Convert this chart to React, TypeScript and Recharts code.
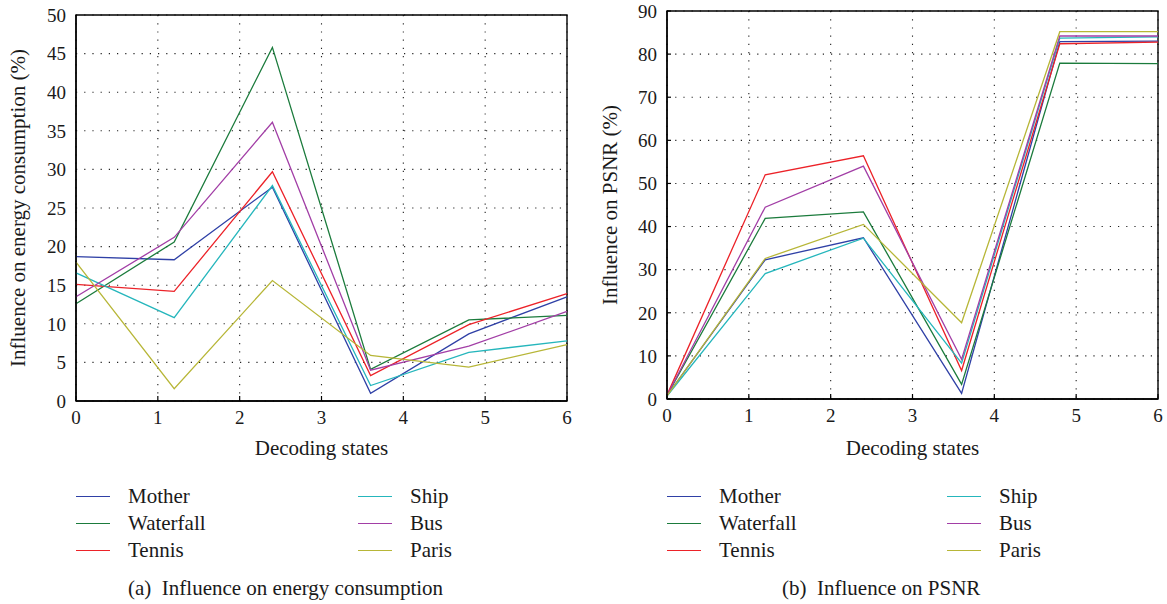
import React from "react";
import {
  LineChart,
  Line,
  XAxis,
  YAxis,
  CartesianGrid,
  ReferenceArea,
  Label,
} from "recharts";

// decoding states sampled at these x positions
const STATES = [0, 1.2, 2.4, 3.6, 4.8, 6];
const X_TICKS = [0, 1, 2, 3, 4, 5, 6];
const ENERGY_TICKS = [0, 5, 10, 15, 20, 25, 30, 35, 40, 45, 50];
const PSNR_TICKS = [0, 10, 20, 30, 40, 50, 60, 70, 80, 90];

const SERIES = ["Mother", "Waterfall", "Tennis", "Ship", "Bus", "Paris"];
const COLORS = ["#2f40a6", "#1b7b3c", "#ec2228", "#25b6bc", "#a23ea6", "#b7b637"];

// (a) influence on energy consumption (%)
const energyMother = [18.7, 18.3, 27.7, 1.0, 8.7, 13.5];
const energyWaterfall = [12.6, 20.6, 45.8, 4.1, 10.5, 11.1];
const energyTennis = [15.1, 14.2, 29.7, 3.3, 9.9, 13.9];
const energyShip = [16.6, 10.8, 27.9, 2.0, 6.3, 7.8];
const energyBus = [13.5, 21.2, 36.1, 4.0, 7.1, 11.6];
const energyParis = [18.0, 1.6, 15.6, 5.9, 4.4, 7.3];

// (b) influence on PSNR (%)
const psnrMother = [0.8, 32.3, 37.4, 1.3, 82.9, 83.0];
const psnrWaterfall = [0.8, 41.9, 43.4, 3.4, 77.9, 77.8];
const psnrTennis = [0.9, 52.0, 56.4, 6.6, 82.4, 82.8];
const psnrShip = [0.7, 29.1, 37.3, 8.3, 83.7, 84.0];
const psnrBus = [0.8, 44.5, 54.0, 9.2, 84.2, 84.2];
const psnrParis = [0.7, 32.6, 40.5, 17.7, 85.2, 85.2];

const energySeries = [energyMother, energyWaterfall, energyTennis, energyShip, energyBus, energyParis];
const psnrSeries = [psnrMother, psnrWaterfall, psnrTennis, psnrShip, psnrBus, psnrParis];

const FONT = '"Liberation Serif", serif';
const INK = "#1a1a1a";

function buildRows(series: number[][]) {
  return STATES.map((x, i) => {
    const row: Record<string, number> = { x };
    SERIES.forEach((name, s) => {
      row[name] = series[s][i];
    });
    return row;
  });
}

function LegendBlock({ left, top, colGap }: { left: number; top: number; colGap: number }) {
  return (
    <div style={{ position: "absolute", left, top, fontFamily: FONT, fontSize: 21, color: INK }}>
      {SERIES.map((name, i) => {
        const col = i < 3 ? 0 : 1;
        const row = i % 3;
        return (
          <div
            key={name}
            style={{
              position: "absolute",
              left: col * colGap,
              top: row * 27,
              display: "flex",
              alignItems: "center",
              whiteSpace: "nowrap",
              height: 24,
            }}
          >
            <span style={{ display: "inline-block", width: 34, height: 0, borderTop: `1.5px solid ${COLORS[i]}` }} />
            <span style={{ marginLeft: 18 }}>{name}</span>
          </div>
        );
      })}
    </div>
  );
}

interface PanelProps {
  left: number;
  series: number[][];
  ticks: number[];
  yMax: number;
  yLabel: string;
  caption: string;
  yAxisWidth: number;
  top: number;
  xAxisHeight: number;
  yTick: number;
  labelOffset: number;
  legendLeft: number;
  colGap: number;
  captionLeft: number;
}

function Panel(p: PanelProps) {
  const rows = buildRows(p.series);
  return (
    <div style={{ position: "absolute", left: p.left, top: 0, width: 585, height: 604 }}>
      <LineChart
        width={585}
        height={460}
        data={rows}
        margin={{ top: p.top, right: 18 - (p.yAxisWidth - 76), bottom: 0, left: 0 }}
        style={{ fontFamily: FONT }}
      >
        <CartesianGrid stroke="#222" strokeWidth={1.1} strokeDasharray="1.2 7" />
        <XAxis
          dataKey="x"
          type="number"
          domain={[0, 6]}
          ticks={X_TICKS}
          height={p.xAxisHeight}
          axisLine={{ stroke: "#000", strokeWidth: 1.4 }}
          tickLine={{ stroke: "#000", strokeWidth: 1.2 }}
          tickSize={-5}
          tickMargin={15}
          tick={{ fontSize: 19, fill: INK, fontFamily: FONT }}
        >
          <Label
            value="Decoding states"
            position="insideBottom"
            offset={5}
            style={{ fontSize: 21, fill: INK, fontFamily: FONT }}
          />
        </XAxis>
        <YAxis
          type="number"
          domain={[0, p.yMax]}
          ticks={p.ticks}
          width={p.yAxisWidth}
          axisLine={{ stroke: "#000", strokeWidth: 1.4 }}
          tickLine={p.yTick === 0 ? false : { stroke: "#000", strokeWidth: 1.2 }}
          tickSize={-p.yTick}
          tickMargin={10 + p.yTick}
          tick={{ fontSize: 19, fill: INK, fontFamily: FONT }}
        >
          <Label
            value={p.yLabel}
            angle={-90}
            position="insideLeft"
            offset={p.labelOffset}
            style={{ fontSize: 21, fill: INK, fontFamily: FONT, textAnchor: "middle" }}
          />
        </YAxis>
        <ReferenceArea x1={0} x2={6} y1={0} y2={p.yMax} fill="none" stroke="#000" strokeWidth={1.4} ifOverflow="visible" />
        {SERIES.map((name, i) => (
          <Line
            key={name}
            dataKey={name}
            stroke={COLORS[i]}
            strokeWidth={1.3}
            dot={false}
            isAnimationActive={false}
          />
        ))}
      </LineChart>
      <LegendBlock left={p.legendLeft} top={484} colGap={p.colGap} />
      <div
        style={{
          position: "absolute",
          left: p.captionLeft,
          top: 576,
          fontFamily: FONT,
          fontSize: 21,
          color: INK,
          whiteSpace: "nowrap",
        }}
      >
        {p.caption}
      </div>
    </div>
  );
}

export default function App() {
  return (
    <div style={{ position: "absolute", left: 0, top: 0, width: 1167, height: 604, background: "#fff" }}>
      <Panel
        left={0}
        series={energySeries}
        ticks={ENERGY_TICKS}
        yMax={50}
        yLabel="Influence on energy consumption (%)"
        caption={"(a)\u2002Influence on energy consumption"}
        yAxisWidth={76}
        top={15}
        xAxisHeight={59}
        yTick={0}
        labelOffset={18}
        legendLeft={76}
        colGap={282}
        captionLeft={128}
      />
      <Panel
        left={590}
        series={psnrSeries}
        ticks={PSNR_TICKS}
        yMax={90}
        yLabel="Influence on PSNR (%)"
        caption={"(b)\u2002Influence on PSNR"}
        yAxisWidth={77}
        top={11}
        xAxisHeight={61}
        yTick={4}
        labelOffset={20}
        legendLeft={77}
        colGap={280}
        captionLeft={192}
      />
    </div>
  );
}
